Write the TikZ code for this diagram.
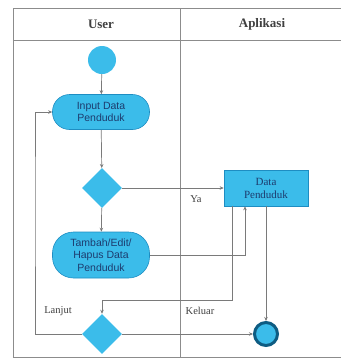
\documentclass[tikz,border=0pt]{standalone}
\usepackage{fontspec}
\setmainfont{Liberation Serif}
\setsansfont{Liberation Sans}
\usetikzlibrary{arrows.meta,shapes.geometric}
\definecolor{cy}{HTML}{3BBCEA}
\definecolor{cyb}{HTML}{1E8DC2}
\definecolor{navy}{HTML}{1D3C6E}
\definecolor{fr}{HTML}{8C8C8C}
\definecolor{ln}{HTML}{7A7A7A}
\definecolor{ring}{HTML}{0E5C82}
\begin{document}
\begin{tikzpicture}[x=1pt,y=-1pt,
  frameline/.style={draw=fr,line width=0.9pt},
  conn/.style={draw=ln,line width=0.7pt},
  arr/.style={conn,-{Stealth[length=4pt,width=3.5pt]}},
  act/.style={rectangle,fill=cy,draw=cyb,line width=0.6pt,align=center,font=\sffamily\fontsize{10.5}{12.5}\selectfont,text=navy,inner sep=0pt},
  dec/.style={diamond,aspect=1,fill=cy,draw=none,minimum size=40pt,inner sep=0pt},
  lab/.style={font=\fontsize{10.5}{12}\selectfont,text=black!75},
  hdr/.style={font=\bfseries\fontsize{13}{15}\selectfont,text=black!75}]
\useasboundingbox (0,0) rectangle (341,360);
% frame
\draw[frameline] (13,357) -- (13,8) -- (341,8);
\draw[frameline] (13,40) -- (341,40);
\draw[frameline] (180,8) -- (180,357);
\draw[frameline] (13,357) -- (341,357);
\node[hdr] (hu) at (101,24) {User};
\node[hdr] (ha) at (262,24) {Aplikasi};
% nodes
\node[circle,fill=cy,draw=none,minimum size=28pt,inner sep=0pt] (start) at (102,60) {};
\node[act,minimum width=97pt,minimum height=35pt,rounded corners=17pt] (input) at (101,112) {Input Data\\Penduduk};
\node[dec] (d1) at (102,188) {};
\node[act,minimum width=97pt,minimum height=46pt,rounded corners=21pt] (tambah) at (101,255) {Tambah/Edit/\\Hapus Data\\Penduduk};
\node[rectangle,fill=cy,draw=cyb,line width=0.6pt,minimum width=84pt,minimum height=36pt,align=center,inner sep=0pt,font=\fontsize{11}{13}\selectfont,text=navy] (data) at (266,188) {Data\\Penduduk};
\node[dec] (d2) at (102,334) {};
\node[circle,fill=cy,draw=ring,line width=3pt,minimum size=23pt,inner sep=0pt] (fin) at (266,334) {};
% helper coordinates
\coordinate (k1) at (102,300);
\coordinate (k2) at (35,200);
% connectors
\draw[arr] (start) -- (input);
\draw[arr] (input) -- (d1);
\draw[arr] (d1) -- (tambah);
\draw[arr] (d1.east) -- (data.west);
\draw[arr] (tambah.east) -| ([xshift=-21pt]data.south);
\draw[arr] ([xshift=-34pt]data.south) |- (k1) -- (d2.north);
\draw[arr] (data.south) -- (fin.north);
\draw[arr] (d2.east) -- (fin.west);
\draw[arr] (d2.west) -| (k2) |- (input.west);
% labels
\node[lab] (ya) at (196,199) {Ya};
\node[lab] (lanjut) at (58,311) {Lanjut};
\node[lab] (keluar) at (200,311) {Keluar};
\end{tikzpicture}
\end{document}
